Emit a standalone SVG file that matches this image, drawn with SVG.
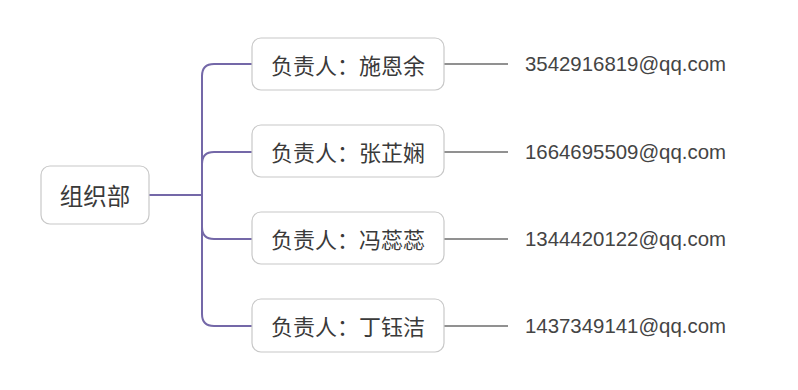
<svg xmlns="http://www.w3.org/2000/svg" width="798" height="390" viewBox="0 0 798 390">
<style>
.box{fill:#fff;stroke:#c8c8c8;stroke-width:1.2}
.cn{font-family:"Noto Sans CJK SC","Noto Sans",sans-serif;fill:#3a3a3a;dominant-baseline:central}
.em{font-family:"Liberation Sans",Arial,sans-serif;font-size:20.4px;fill:#444;dominant-baseline:central}
.tree{fill:none;stroke:#7468a8;stroke-width:2}
.leaf{fill:none;stroke:#6e6e6e;stroke-width:1.5}
</style>
<rect width="798" height="390" fill="#fff"/>
<g id="connectors">
<path class="tree" d="M149 195 H202"/>
<path class="tree" d="M252 64 H214 Q202 64 202 76 V314 Q202 326 214 326 H252"/>
<path class="tree" d="M252 152 H214 Q202 152 202 164 V195"/>
<path class="tree" d="M252 239 H214 Q202 239 202 227 V195"/>
<path class="leaf" d="M444 64 H508 M444 152 H508 M444 239 H508 M444 326 H508"/>
</g>
<g id="root">
<rect class="box" x="41" y="166" width="108" height="58" rx="9"/>
<text class="cn" x="95" y="195" font-size="23.5" text-anchor="middle">组织部</text>
</g>
<g id="n1">
<rect class="box" x="252" y="38" width="192" height="52" rx="9"/>
<text class="cn" x="348" y="64" font-size="22" text-anchor="middle">负责人：施恩余</text>
</g>
<g id="n2">
<rect class="box" x="252" y="125" width="192" height="52" rx="9"/>
<text class="cn" x="348" y="151" font-size="22" text-anchor="middle">负责人：张芷娴</text>
</g>
<g id="n3">
<rect class="box" x="252" y="212" width="192" height="52" rx="9"/>
<text class="cn" x="348" y="238" font-size="22" text-anchor="middle">负责人：冯蕊蕊</text>
</g>
<g id="n4">
<rect class="box" x="252" y="299" width="192" height="53" rx="9"/>
<text class="cn" x="348" y="325" font-size="22" text-anchor="middle">负责人：丁钰洁</text>
</g>
<g id="e1"><text class="em" x="525" y="64">3542916819@qq.com</text></g>
<g id="e2"><text class="em" x="525" y="152">1664695509@qq.com</text></g>
<g id="e3"><text class="em" x="525" y="239">1344420122@qq.com</text></g>
<g id="e4"><text class="em" x="525" y="326">1437349141@qq.com</text></g>
</svg>
